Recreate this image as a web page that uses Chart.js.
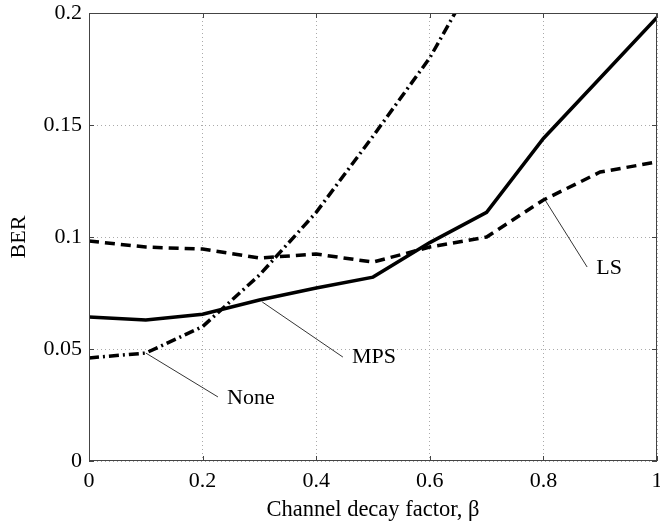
<!DOCTYPE html>
<html>
<head>
<meta charset="utf-8">
<script src="https://cdn.jsdelivr.net/npm/chart.js@4.4.1/dist/chart.umd.min.js"></script>
<style>
  html, body { margin: 0; padding: 0; background: #fff; }
  #c { display: block; }
</style>
</head>
<body>
<canvas id="c" width="660" height="527"></canvas>
<script>
// ---- data ----
const beta = [0, 0.1, 0.2, 0.3, 0.4, 0.5, 0.6, 0.7, 0.8, 0.9, 1.0];
const berMPS  = [0.0643, 0.0630, 0.0655, 0.0719, 0.0772, 0.0821, 0.0975, 0.1110, 0.1440, 0.1710, 0.1980];
const berLS   = [0.0982, 0.0955, 0.0946, 0.0906, 0.0924, 0.0888, 0.0955, 0.1000, 0.1165, 0.1290, 0.1335];
const betaNone = [0, 0.1, 0.2, 0.3, 0.4, 0.5, 0.6, 0.7];
const berNone = [0.0460, 0.0482, 0.0600, 0.0830, 0.1110, 0.1450, 0.1800, 0.2250];
const xTicks = [0, 0.2, 0.4, 0.6, 0.8, 1];
const yTicks = [0, 0.05, 0.1, 0.15, 0.2];
const xTitle = 'Channel decay factor, \u03B2';
const yTitle = 'BER';
// annotation labels: text, anchor point on curve, leader end, text start (data coords)
const annText   = ['None', 'MPS', 'LS'];
const annAnchorX = [0.100, 0.305, 0.803];
const annAnchorY = [0.0482, 0.0710, 0.1165];
const annEndX    = [0.227, 0.447, 0.877];
const annEndY    = [0.0286, 0.0464, 0.0866];
const annTextX   = [0.243, 0.463, 0.893];
const annTextY   = [0.0281, 0.0464, 0.0860];

const FONT = "'Liberation Serif', 'Times New Roman', serif";
const FS = 22;

function pts(xs, ys) { return xs.map((x, i) => ({ x: x, y: ys[i] })); }

function zeroPad(s) { s.paddingTop = 0; s.paddingBottom = 0; s.paddingLeft = 0; s.paddingRight = 0; }

const boxPlugin = {
  id: 'boxPlugin',
  afterDatasetsDraw(chart) {
    const { ctx, chartArea: a, scales: { x, y } } = chart;
    ctx.save();
    // leader lines and labels
    ctx.strokeStyle = '#000';
    ctx.lineWidth = 0.8;
    ctx.fillStyle = '#000';
    ctx.font = FS + 'px ' + FONT;
    ctx.textBaseline = 'middle';
    ctx.textAlign = 'left';
    for (let i = 0; i < annText.length; i++) {
      ctx.beginPath();
      ctx.moveTo(x.getPixelForValue(annAnchorX[i]), y.getPixelForValue(annAnchorY[i]));
      ctx.lineTo(x.getPixelForValue(annEndX[i]), y.getPixelForValue(annEndY[i]));
      ctx.stroke();
      ctx.fillText(annText[i], x.getPixelForValue(annTextX[i]), y.getPixelForValue(annTextY[i]));
    }
    // box
    ctx.strokeStyle = '#444';
    ctx.lineWidth = 1;
    ctx.strokeRect(a.left + 0.5, a.top + 0.5, a.right - a.left - 1, a.bottom - a.top - 1);
    // inward ticks on all sides
    const tl = 5;
    ctx.beginPath();
    xTicks.forEach(v => {
      const px = Math.round(x.getPixelForValue(v)) + 0.5;
      ctx.moveTo(px, a.bottom); ctx.lineTo(px, a.bottom - tl);
      ctx.moveTo(px, a.top); ctx.lineTo(px, a.top + tl);
    });
    yTicks.forEach(v => {
      const py = Math.round(y.getPixelForValue(v)) + 0.5;
      ctx.moveTo(a.left, py); ctx.lineTo(a.left + tl, py);
      ctx.moveTo(a.right, py); ctx.lineTo(a.right - tl, py);
    });
    ctx.stroke();
    ctx.restore();
  }
};

new Chart(document.getElementById('c'), {
  type: 'line',
  data: {
    datasets: [
      { label: 'MPS', data: pts(beta, berMPS), borderColor: '#000', borderWidth: 3.5,
        pointRadius: 0, tension: 0, fill: false },
      { label: 'LS', data: pts(beta, berLS), borderColor: '#000', borderWidth: 3.5,
        borderDash: [10, 6], pointRadius: 0, tension: 0, fill: false },
      { label: 'None', data: pts(betaNone, berNone), borderColor: '#000', borderWidth: 3.5,
        borderDash: [10, 4, 2, 4], pointRadius: 0, tension: 0, fill: false }
    ]
  },
  options: {
    responsive: false,
    animation: false,
    devicePixelRatio: 1,
    layout: { padding: { left: 0, right: 3, top: 13, bottom: 0 } },
    plugins: { legend: { display: false }, tooltip: { enabled: false } },
    scales: {
      x: {
        type: 'linear', min: 0, max: 1,
        afterBuildTicks: s => { s.ticks = xTicks.map(v => ({ value: v })); },
        afterFit: s => { s.height = 66; zeroPad(s); },
        grid: { color: '#aaa', lineWidth: 1, drawTicks: false, tickLength: 0 },
        border: { display: false, dash: [1, 3] },
        ticks: { color: '#000', font: { family: FONT, size: FS }, padding: 7, maxRotation: 0,
                 callback: v => String(v) },
        title: { display: true, text: xTitle, color: '#000', font: { family: FONT, size: 22.5 },
                 padding: { top: 0, bottom: 3 } }
      },
      y: {
        type: 'linear', min: 0, max: 0.2,
        afterBuildTicks: s => { s.ticks = yTicks.map(v => ({ value: v })); },
        afterFit: s => { s.width = 89; zeroPad(s); },
        grid: { color: '#aaa', lineWidth: 1, drawTicks: false, tickLength: 0 },
        border: { display: false, dash: [1, 3] },
        ticks: { color: '#000', font: { family: FONT, size: FS }, padding: 7,
                 callback: v => String(v) },
        title: { display: true, text: yTitle, color: '#000', font: { family: FONT, size: FS },
                 padding: { top: 6, bottom: 0 } }
      }
    }
  },
  plugins: [boxPlugin]
});
</script>
</body>
</html>
